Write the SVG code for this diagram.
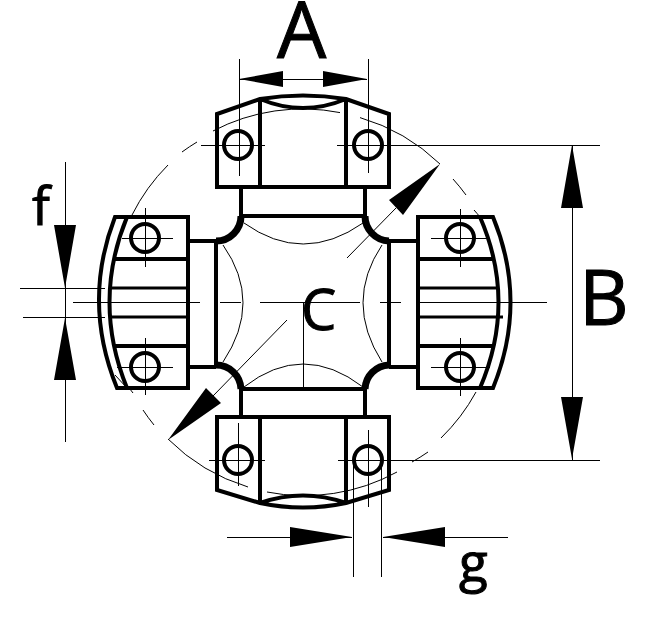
<svg xmlns="http://www.w3.org/2000/svg" width="668" height="637" viewBox="0 0 668 637">
<style>
.k{fill:none;stroke:#000;stroke-width:4}
.m{fill:none;stroke:#000;stroke-width:3}
.t{fill:none;stroke:#000;stroke-width:1}
.s{shape-rendering:crispEdges}
.w{fill:none;stroke:#000;stroke-width:7}
.a{fill:#000;stroke:none}
text{font-family:"Open Sans","Liberation Sans",Arial,sans-serif;fill:#000;stroke:#000;stroke-width:1}
</style>
<rect width="668" height="637" fill="#fff"/>
<g id="circle"><path class="t" d="M213 131A193 193 0 0 1 340 112.600M360 117.600A193 193 0 0 1 440 164M453 179A193 193 0 0 1 466 195M474 210A193 193 0 0 1 480 217M476 392A193 193 0 0 1 441 438M428 452A193 193 0 0 1 412 462M397 472A193 193 0 0 1 267 492M248 487A193 193 0 0 1 168 439M154 425A193 193 0 0 1 143 410M133 393A193 193 0 0 1 127 385M132 215A193 193 0 0 1 168 165M182 152A193 193 0 0 1 197 142M115 375L127 388"/></g>
<g id="cross">
<path class="k" d="M241 216H365M241 389H365M216 241V365M389 241V365"/>
<path class="w" d="M241 216A25 25 0 0 1 216 241M365 216A25 25 0 0 0 389 241M241 389A25 25 0 0 0 216 365M365 389A25 25 0 0 1 389 365"/>
<path class="t" d="M244 223Q303 265 363 223M244 387Q303 341 363 387M223 245Q263 302 223 362M382 245Q344 302 382 362"/>
</g>
<g id="block-top">
<path class="k" d="M241 187V216M365 187V216"/>
<path class="k" d="M217 187V114L260 99Q303 92 346 99L389 114V187ZM260 99V187M346 99V187M260 99Q303 117 346 99"/>
<circle class="k" cx="238" cy="145" r="14"/><circle class="k" cx="368" cy="145" r="14"/>
</g>
<g id="block-bottom">
<path class="k" d="M241 389V417M365 389V417"/>
<path class="k" d="M217 417V490L260 503Q303 512 346 503L389 490V417ZM260 417V503M346 417V503M260 503Q303 488 346 503"/>
<circle class="k" cx="238" cy="460" r="14"/><circle class="k" cx="368" cy="460" r="14"/>
</g>
<g id="block-left">
<path class="k" d="M188 241H216M188 367H216"/>
<path class="k" d="M115 217H188V388H117Q82 302 115 217ZM127 217Q92 302 127 388M113 259H188M113 346H188"/>
<path class="m" d="M111 288H188M111 317H188"/>
<circle class="k" cx="145" cy="238" r="14"/><circle class="k" cx="145" cy="367" r="14"/>
</g>
<g id="block-right">
<path class="k" d="M389 241H418M389 367H418"/>
<path class="k" d="M493 217H418V388H493Q528 302 493 217ZM480 217Q517 302 480 388M418 259H492M418 346H492"/>
<path class="m" d="M418 288H497M418 317H503"/>
<circle class="k" cx="460" cy="238" r="14"/><circle class="k" cx="460" cy="367" r="14"/>
</g>
<g id="connectors">
<path class="t s" d="M239 59V176M368 59V173M240 79H367M201 145H265M337 145H600M238 423V486M368 430V507M209 460H265M338 460H600M145 208V267M145 338V395M122 238H173M117 367H173M460 209V267M460 338V396M431 238H490M431 367H490"/>
<path class="t s" d="M572 145V460M65 162V442M20 288H105M23 317H105M73 302H200M220 302H241M260 302H360M380 302H401M418 302H547M227 537H352M383 537H508M353 465V577M381 465V577M303 302V389"/>
<path class="t" d="M347 258L396 208M287 320L213 396"/>
<path class="a" d="M239 79L283 71V87ZM367 79L323 71V87ZM572 145L561 208H583ZM572 459L561 397H583ZM65 288L54 225H76ZM65 318L54 380H76ZM352 537L290 527V547ZM383 537L445 527V547ZM440 164L389 200L403 215ZM168 440L206 388L221 403Z"/>
</g>
<g id="labels">
<text x="277" y="58" font-size="78">A</text>
<text x="579" y="325" font-size="77">B</text>
<text x="301" y="330" font-size="56">C</text>
<text x="32" y="225" font-size="53">f</text>
<text x="459" y="581" font-size="53">g</text>
</g>
</svg>
